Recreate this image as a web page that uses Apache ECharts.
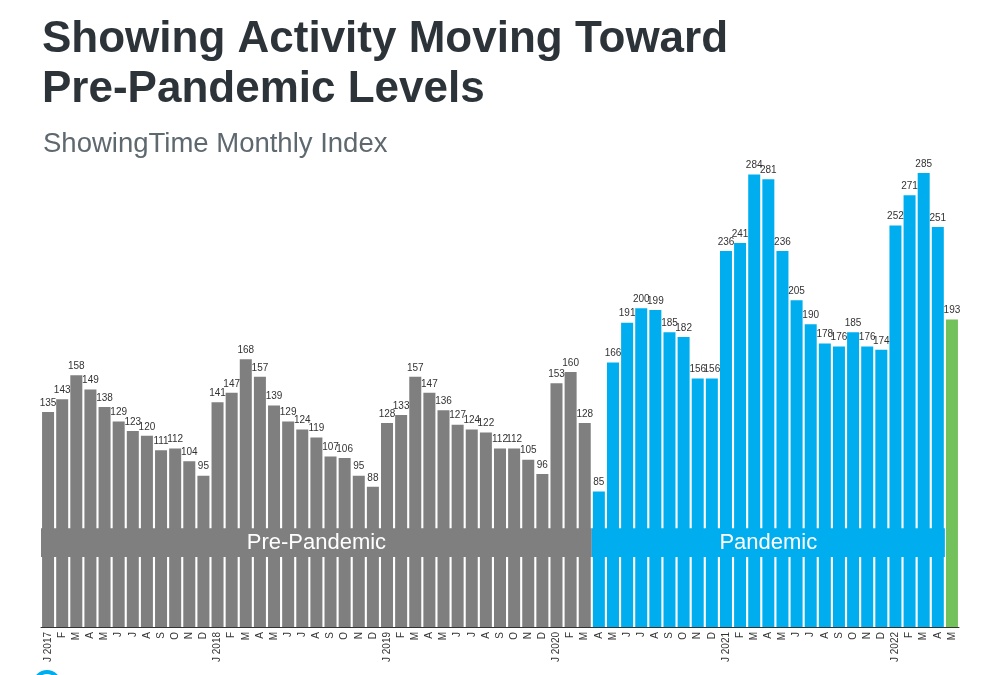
<!DOCTYPE html>
<html>
<head>
<meta charset="utf-8">
<script src="https://cdn.jsdelivr.net/npm/echarts@6/dist/echarts.min.js"></script>
<style>
html,body{margin:0;padding:0;background:#fff;}
#chart{width:1000px;height:675px;}
</style>
</head>
<body>
<div id="chart"></div>
<script>
var tickLabels = [
  'J 2017','F','M','A','M','J','J','A','S','O','N','D',
  'J 2018','F','M','A','M','J','J','A','S','O','N','D',
  'J 2019','F','M','A','M','J','J','A','S','O','N','D',
  'J 2020','F','M','A','M','J','J','A','S','O','N','D',
  'J 2021','F','M','A','M','J','J','A','S','O','N','D',
  'J 2022','F','M','A','M'
];
var indexValues = [
  135,143,158,149,138,129,123,120,111,112,104,95,
  141,147,168,157,139,129,124,119,107,106,95,88,
  128,133,157,147,136,127,124,122,112,112,105,96,
  153,160,128,85,166,191,200,199,185,182,156,156,
  236,241,284,281,236,205,190,178,176,185,176,174,
  252,271,285,251,193
];
// phase of each month: first index, last index (category positions)
var phaseNames = ['Pre-Pandemic','Pandemic','Current'];
var phaseStart = [0, 39, 64];
var phaseEnd   = [38, 63, 64];
var phaseColors = ['#7f7f7f','#00aeef','#72c15a'];
var bandPhases = [0, 1];

function phaseOf(i){
  for (var p = 0; p < phaseStart.length; p++) {
    if (i >= phaseStart[p] && i <= phaseEnd[p]) return p;
  }
  return 0;
}

var chart = echarts.init(document.getElementById('chart'), null, {renderer:'canvas'});
var barData = indexValues.map(function(v, i){
  return {value: v, itemStyle: {color: phaseColors[phaseOf(i)]}};
});
var bandData = bandPhases.map(function(p){
  return [
    {name: phaseNames[p], xAxis: phaseStart[p], yAxis: 44, itemStyle: {color: phaseColors[p], opacity: 1}},
    {xAxis: phaseEnd[p], yAxis: 62}
  ];
});

chart.setOption({
  animation: false,
  title: [{
    text: 'Showing Activity Moving Toward\nPre-Pandemic Levels',
    left: 37, top: 10,
    textStyle: {fontFamily: 'Liberation Sans, Arial, sans-serif', fontSize: 44, fontWeight: 'bold', color: '#2c343a', lineHeight: 50}
  },{
    text: 'ShowingTime Monthly Index',
    left: 38, top: 124,
    textStyle: {fontFamily: 'Liberation Sans, Arial, sans-serif', fontSize: 27.5, fontWeight: 'normal', color: '#5e686f', lineHeight: 30}
  }],
  grid: {left: 41, right: 41, top: 149, bottom: 48, containLabel: false},
  xAxis: {
    type: 'category',
    data: tickLabels,
    axisLine: {lineStyle: {color: '#333', width: 1}},
    axisTick: {show: false},
    axisLabel: {
      interval: 0, rotate: 90, fontSize: 10, color: '#333', margin: 5,
      fontFamily: 'Liberation Sans, Arial, sans-serif'
    }
  },
  yAxis: {type: 'value', min: 0, max: 300, show: false, splitLine: {show: false}},
  series: [{
    type: 'bar',
    data: barData,
    barCategoryGap: '15%',
    label: {
      show: true, position: 'top', distance: 4, fontSize: 10, color: '#333',
      fontFamily: 'Liberation Sans, Arial, sans-serif'
    },
    markArea: {
      z: 5,
      silent: true,
      label: {show: true, position: 'inside', color: '#fff', fontSize: 22, fontFamily: 'Liberation Sans, Arial, sans-serif'},
      data: bandData
    }
  }],
  graphic: [{
    type: 'circle',
    shape: {cx: 47, cy: 684, r: 12},
    style: {fill: 'none', stroke: '#00aeef', lineWidth: 4}
  }]
});
</script>
</body>
</html>
